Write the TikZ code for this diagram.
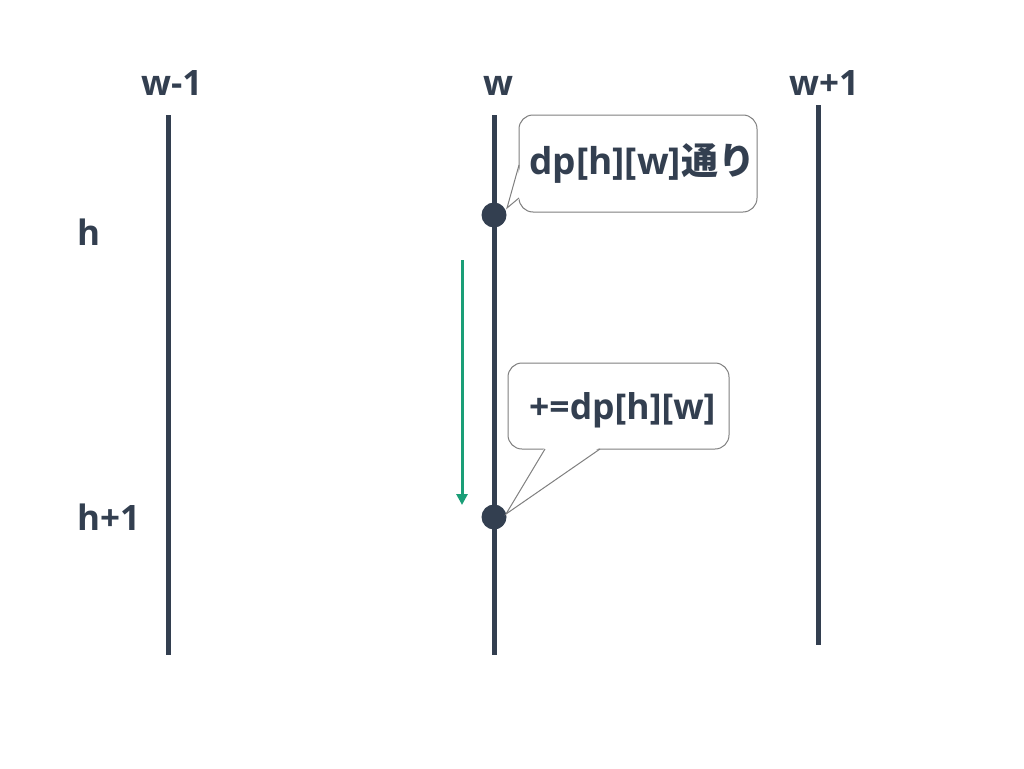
\documentclass[tikz,border=0pt]{standalone}
\usepackage{fontspec}
\setmainfont{Open Sans}
\newfontfamily\cjk{Noto Sans CJK JP}
\usetikzlibrary{arrows.meta}
\definecolor{navy}{HTML}{333F50}
\definecolor{teal}{HTML}{1A9E77}
\definecolor{edge}{HTML}{7F7F7F}
\tikzset{
  lbl/.style={text=navy, font=\fontsize{35}{40}\selectfont\bfseries, inner sep=0pt, anchor=base west},
  big/.style={lbl, font=\fontsize{37}{42}\selectfont\bfseries},
  mid/.style={lbl, font=\fontsize{35.5}{40}\selectfont\bfseries},
  pole/.style={draw=navy, line width=5pt},
  dot/.style={circle, fill=navy, minimum size=25pt, inner sep=0pt},
  bubble/.style={draw=edge, fill=white, line width=1pt, rounded corners=14pt},
  tail/.style={draw=edge, line width=1pt},
  flow/.style={draw=teal, line width=3pt, -{Triangle[length=11pt,width=11pt]}},
}
\begin{document}
\begin{tikzpicture}[x=1pt,y=-1pt]
\useasboundingbox (0,0) rectangle (1024,768);
% column labels
\node[lbl] (lwm) at (141,95) {w-1};
\node[lbl] (lw) at (483,95) {w};
\node[lbl] (lwp) at (789,95) {w+1};
% row labels
\node[lbl] (lh) at (77,245) {h};
\node[lbl] (lh1) at (77,530) {h+1};
% poles
\coordinate (p1t) at (168,115); \coordinate (p1b) at (168,655);
\coordinate (p2t) at (494,115); \coordinate (p2b) at (494,655);
\coordinate (p3t) at (818,105); \coordinate (p3b) at (818,645);
\draw[pole] (p1t) -- (p1b);
\draw[pole] (p2t) -- (p2b);
\draw[pole] (p3t) -- (p3b);
% dots
\node[dot] (d1) at (494,215) {};
\node[dot] (d2) at (494,517) {};
% green arrow
\coordinate (gt) at (462,260); \coordinate (gb) at (462,505);
\draw[flow] (gt) -- (gb);
% callout 1
\draw[bubble] (519,115) rectangle (757,212);
\fill[white] (521,165) -- (507,208) -- (521,198) -- cycle;
\coordinate (t1) at (507,208);
\draw[tail] (519,165) -- (t1) -- (519,198);
\node[big] (c1) at (529,174) {dp[h][w]{\cjk 通り}};
% callout 2
\draw[bubble] (508,363) rectangle (729,449);
\fill[white] (545,447) -- (506,514) -- (600,447) -- cycle;
\coordinate (t2) at (506,514);
\draw[tail] (545,449) -- (t2) -- (600,449);
\node[mid] (c2) at (529,419) {+=dp[h][w]};
\end{tikzpicture}
\end{document}
